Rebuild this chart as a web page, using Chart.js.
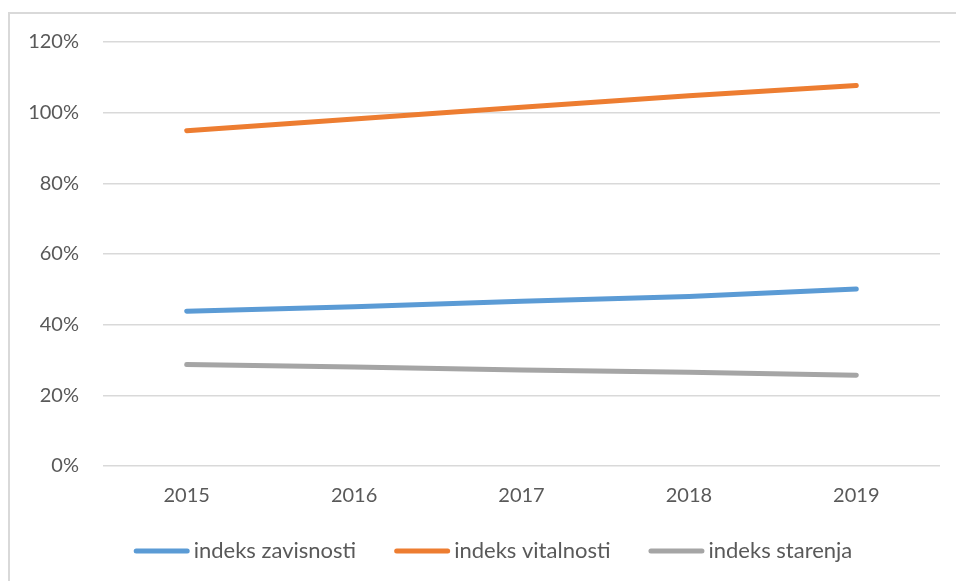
<!DOCTYPE html>
<html>
<head>
<meta charset="utf-8">
<script src="https://cdn.jsdelivr.net/npm/chart.js@4"></script>
<style>
  html, body { margin: 0; padding: 0; background: #fff; overflow: hidden; }
  #wrap { position: relative; width: 956px; height: 581px; }
  #frame { position: absolute; left: 8px; top: 12px; width: 1000px; height: 1000px; border: 2px solid #D9D9D9; box-sizing: border-box; }
  canvas { position: absolute; left: 0; top: 0; }
</style>
</head>
<body>
<div id="wrap">
  <div id="frame"></div>
  <canvas id="c" width="956" height="581"></canvas>
</div>
<script>
const years = ['2015', '2016', '2017', '2018', '2019'];
const seriesNames = ['indeks zavisnosti', 'indeks vitalnosti', 'indeks starenja'];
const zavisnosti = [43.8, 45.1, 46.6, 48.0, 50.1];
const vitalnosti = [94.9, 98.2, 101.5, 104.8, 107.7];
const starenja = [28.7, 28.0, 27.2, 26.5, 25.7];
const yTicks = [0, 20, 40, 60, 80, 100, 120];
const colors = ['#5B9BD5', '#ED7D31', '#A5A5A5'];

const FONT = { family: 'Lato, "Open Sans", sans-serif', size: 20 };
const LEGEND_FONT = '22px Lato, "Open Sans", sans-serif';
const TEXT = '#595959';

const mk = (label, data, color) => ({
  label, data,
  borderColor: color, backgroundColor: color,
  borderWidth: 5, borderCapStyle: 'round', borderJoinStyle: 'round',
  pointRadius: 0, pointHoverRadius: 0, tension: 0, fill: false
});

// Excel-like legend: long line sample, tight gap, drawn from the datasets
const lineLegend = {
  id: 'lineLegend',
  afterDraw(chart) {
    const ctx = chart.ctx;
    const sets = chart.data.datasets;
    const sample = 56, gap = 4, itemGap = 38, cy = 551;
    ctx.save();
    ctx.font = LEGEND_FONT;
    const widths = sets.map(d => sample + gap + ctx.measureText(d.label).width);
    const total = widths.reduce((a, b) => a + b, 0) + itemGap * (sets.length - 1);
    let x = 493 - total / 2;
    sets.forEach((d, i) => {
      ctx.strokeStyle = d.borderColor;
      ctx.lineWidth = 5;
      ctx.lineCap = 'round';
      ctx.beginPath();
      ctx.moveTo(x + 2.5, cy);
      ctx.lineTo(x + sample - 2.5, cy);
      ctx.stroke();
      ctx.fillStyle = TEXT;
      ctx.textBaseline = 'middle';
      ctx.textAlign = 'left';
      ctx.fillText(d.label, x + sample + gap, cy);
      x += widths[i] + itemGap;
    });
    ctx.restore();
  }
};

new Chart(document.getElementById('c'), {
  type: 'line',
  data: {
    labels: years,
    datasets: [
      mk(seriesNames[0], zavisnosti, colors[0]),
      mk(seriesNames[1], vitalnosti, colors[1]),
      mk(seriesNames[2], starenja, colors[2])
    ]
  },
  plugins: [lineLegend],
  options: {
    responsive: false,
    animation: false,
    devicePixelRatio: 1,
    layout: { padding: { left: 0, right: 16, top: 42, bottom: 0 } },
    plugins: {
      tooltip: { enabled: false },
      legend: { display: false }
    },
    scales: {
      x: {
        offset: true,
        grid: { display: false, drawTicks: false },
        border: { display: false },
        ticks: { font: FONT, color: TEXT, padding: 18 },
        afterFit: (s) => { s.height = 115; }
      },
      y: {
        min: 0, max: 120,
        afterBuildTicks: (s) => { s.ticks = yTicks.map(v => ({ value: v })); },
        grid: { color: '#D9D9D9', lineWidth: 1.5, drawTicks: false },
        border: { display: false },
        ticks: { font: FONT, color: TEXT, padding: 24, callback: (v) => v + '%' },
        afterFit: (s) => { s.width = 103; }
      }
    }
  }
});
</script>
</body>
</html>
